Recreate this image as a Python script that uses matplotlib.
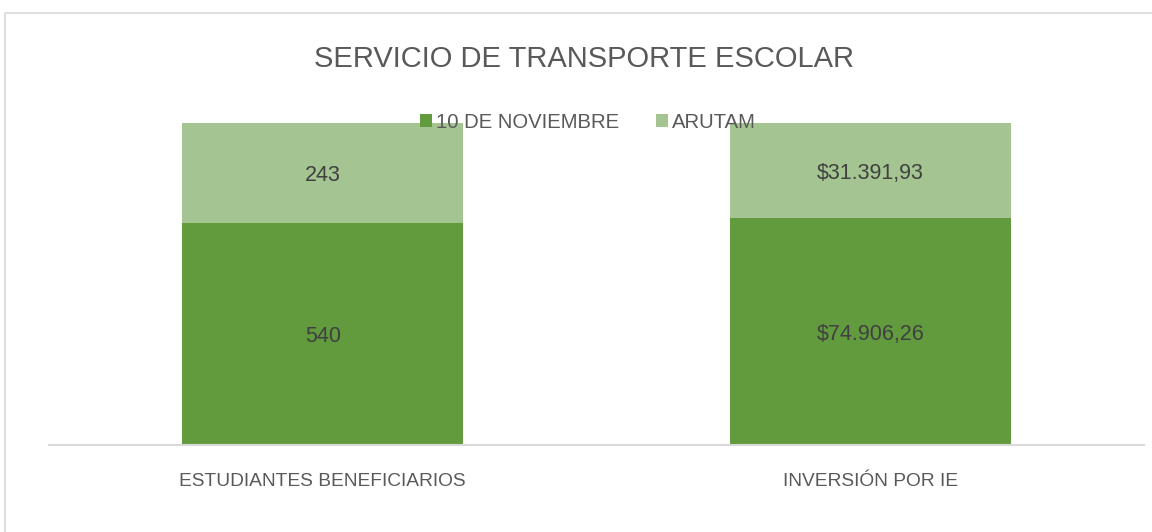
import matplotlib.pyplot as plt
from matplotlib.patches import Rectangle

# datos del grafico (apilado al 100%)
categorias = ["ESTUDIANTES BENEFICIARIOS", "INVERSIÓN POR IE"]
series = ["10 DE NOVIEMBRE", "ARUTAM"]
noviembre = [540, 74906.26]
arutam = [243, 31391.93]
etiquetas_nov = ["540", "$74.906,26"]
etiquetas_aru = ["243", "$31.391,93"]

verde_oscuro = "#629A3E"
verde_claro = "#A4C592"
gris_texto = "#595959"

plt.rcParams["font.family"] = ["Liberation Sans", "DejaVu Sans"]

fig = plt.figure(figsize=(11.52, 5.32), dpi=100)
ax = fig.add_axes([49 / 1152, 1 - 445 / 532, (1144 - 49) / 1152, (445 - 123) / 532])

# borde del area del grafico
fig.patches.append(Rectangle((5 / 1152, -0.1), 1.2, 1 - 13 / 532 + 0.1,
                             transform=fig.transFigure, fill=False,
                             edgecolor="#D9D9D9", linewidth=1.2))

x = list(range(len(categorias)))
totales = [a + b for a, b in zip(noviembre, arutam)]
frac_nov = [a / t for a, t in zip(noviembre, totales)]
frac_aru = [b / t for b, t in zip(arutam, totales)]

ancho = 0.513
b1 = ax.bar(x, frac_nov, width=ancho, color=verde_oscuro, label=series[0])
b2 = ax.bar(x, frac_aru, width=ancho, bottom=frac_nov, color=verde_claro, label=series[1])

for i in x:
    ax.text(i, frac_nov[i] / 2, etiquetas_nov[i], ha="center", va="center_baseline",
            fontsize=15.5, color="#404040")
    ax.text(i, frac_nov[i] + frac_aru[i] / 2, etiquetas_aru[i], ha="center",
            va="center_baseline", fontsize=15.5, color="#404040")

ax.set_xlim(-0.5, 1.5)
ax.set_ylim(0, 1)
ax.set_yticks([])
ax.set_xticks(x)
ax.set_xticklabels(categorias, fontsize=13.8, color=gris_texto)
ax.tick_params(axis="x", length=0, pad=20)
for lado in ["top", "right", "left"]:
    ax.spines[lado].set_visible(False)
ax.spines["bottom"].set_color("#D9D9D9")
ax.spines["bottom"].set_linewidth(1.5)

fig.text(584 / 1152, 1 - 59 / 532, "SERVICIO DE TRANSPORTE ESCOLAR", ha="center", va="center",
         fontsize=21, color=gris_texto)

leg = fig.legend(handles=[b1, b2], labels=series, loc="center",
                 bbox_to_anchor=(588 / 1152, 1 - 122 / 532), ncol=2, frameon=False,
                 fontsize=14.6, handlelength=0.6, handleheight=0.6, handletextpad=0.2,
                 columnspacing=1.8, labelcolor=gris_texto)

fig.savefig("out.png", dpi=100)
